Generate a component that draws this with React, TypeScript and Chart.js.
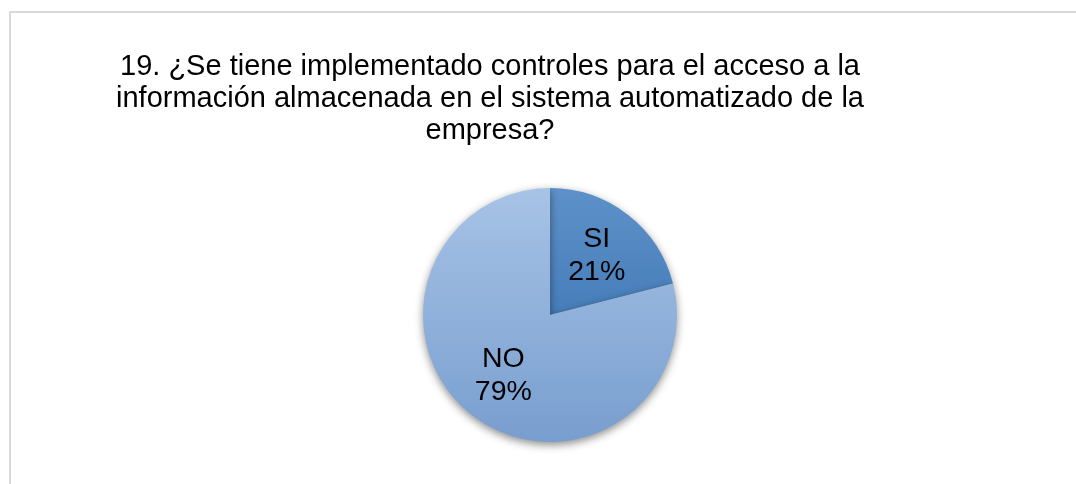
import React, { useEffect, useRef } from "react";
import { Chart, registerables } from "chart.js";

Chart.register(...registerables);

const categories = ["SI", "NO"];
const values = [21, 79];
const titleLines = [
  "19. ¿Se tiene implementado controles para el acceso a la",
  "información almacenada en el sistema automatizado de la",
  "empresa?",
];

const FONT = "'Liberation Sans', Arial, Helvetica, sans-serif";

const gradients: Array<[string, string]> = [
  ["#5e91c9", "#2f6aa9"],
  ["#a7c3e6", "#789ecf"],
];

const titlePlugin = {
  id: "centeredTitle",
  afterDraw(chart: any) {
    const ctx = chart.ctx;
    ctx.save();
    ctx.fillStyle = "#000";
    ctx.font = `29px ${FONT}`;
    ctx.textAlign = "center";
    ctx.textBaseline = "alphabetic";
    const firstBaseline = 75;
    const lineStep = 32;
    titleLines.forEach((line, i) => {
      ctx.fillText(line, chart.width / 2, firstBaseline + i * lineStep);
    });
    ctx.restore();
  },
};

const shadowPlugin = {
  id: "pieShadow",
  beforeDatasetsDraw(chart: any) {
    const ctx = chart.ctx;
    ctx.save();
    ctx.shadowColor = "rgba(0,0,0,0.45)";
    ctx.shadowBlur = 8;
    ctx.shadowOffsetX = 0;
    ctx.shadowOffsetY = 3;
  },
  afterDatasetsDraw(chart: any) {
    chart.ctx.restore();
  },
};

const labelPlugin = {
  id: "sliceLabels",
  afterDatasetsDraw(chart: any) {
    const ctx = chart.ctx;
    const meta = chart.getDatasetMeta(0);
    const total = values.reduce((a, b) => a + b, 0);
    ctx.save();
    ctx.shadowColor = "transparent";
    ctx.fillStyle = "#000";
    ctx.font = `28.5px ${FONT}`;
    ctx.textAlign = "center";
    ctx.textBaseline = "middle";
    meta.data.forEach((arc: any, i: number) => {
      const mid = (arc.startAngle + arc.endAngle) / 2;
      const r = arc.outerRadius * 0.6;
      const x = arc.x + Math.cos(mid) * r;
      const y = arc.y + Math.sin(mid) * r;
      const pct = Math.round((values[i] / total) * 100) + "%";
      ctx.fillText(categories[i], x, y - 16);
      ctx.fillText(pct, x, y + 17);
    });
    ctx.restore();
  },
};

export default function App() {
  const ref = useRef<HTMLCanvasElement | null>(null);
  useEffect(() => {
    if (!ref.current) return;
    const chart = new Chart(ref.current, {
      type: "pie",
      data: {
        labels: categories,
        datasets: [
          {
            data: values,
            borderWidth: 0,
            backgroundColor: (c: any) => {
              const ch = c.chart;
              const area = ch.chartArea;
              if (!area) return gradients[c.dataIndex % 2][0];
              const g = ch.ctx.createLinearGradient(0, area.top, 0, area.bottom);
              const [a, b] = gradients[c.dataIndex % 2];
              g.addColorStop(0, a);
              g.addColorStop(1, b);
              return g;
            },
          },
        ],
      },
      options: {
        responsive: true,
        maintainAspectRatio: false,
        animation: false,
        layout: { padding: { left: 140, right: 20, top: 188, bottom: 42 } },
        plugins: {
          legend: { display: false },
          tooltip: { enabled: false },
          title: { display: false },
        },
      },
      plugins: [shadowPlugin, labelPlugin, titlePlugin],
    });
    return () => chart.destroy();
  }, []);

  return (
    <div
      style={{
        position: "fixed",
        left: 0,
        top: 0,
        width: 1076,
        height: 484,
        background: "#fff",
        overflow: "hidden",
      }}
    >
      <div
        style={{
          position: "absolute",
          left: 9,
          top: 11,
          width: 1200,
          height: 700,
          borderTop: "2px solid #d9d9d9",
          borderLeft: "2px solid #d9d9d9",
        }}
      />
      <div style={{ position: "absolute", left: 12, top: 0, width: 956, height: 484 }}>
        <canvas ref={ref} />
      </div>
    </div>
  );
}
